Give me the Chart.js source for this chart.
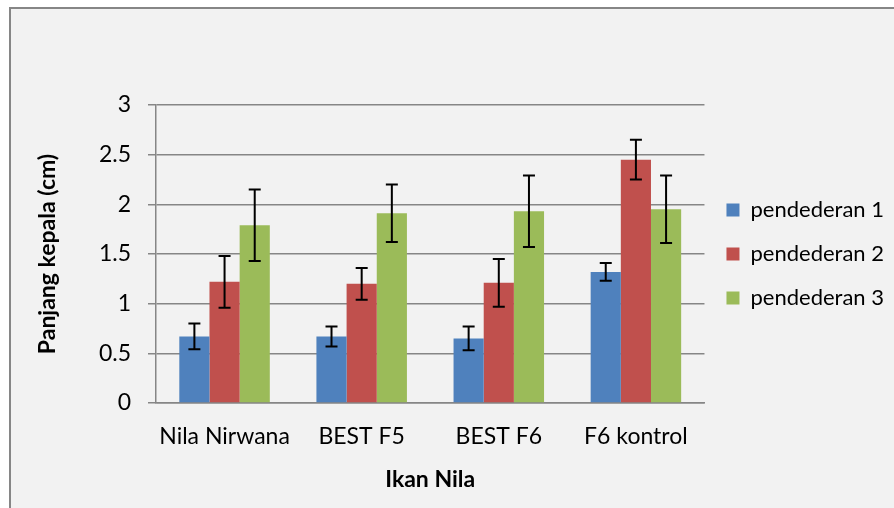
<!DOCTYPE html>
<html>
<head>
<meta charset="utf-8">
<script src="https://cdn.jsdelivr.net/npm/chart.js@4"></script>
<style>
  body { margin: 0; background: #ffffff; }
  #frame {
    position: absolute; left: 9px; top: 7px; width: 900px; height: 520px;
    background: #f2f2f2; border-left: 2px solid #868686; border-top: 2px solid #868686;
  }
  #wrap { position: absolute; left: 0; top: 0; width: 894px; height: 508px; }
</style>
</head>
<body>
<div id="frame"></div>
<div id="wrap"><canvas id="chart" width="894" height="508"></canvas></div>
<script>
// data
const categories = ['Nila Nirwana', 'BEST F5', 'BEST F6', 'F6 kontrol'];
const seriesNames = ['pendederan 1', 'pendederan 2', 'pendederan 3'];
const pendederan1 = [0.67, 0.67, 0.65, 1.32];
const pendederan2 = [1.22, 1.20, 1.21, 2.45];
const pendederan3 = [1.79, 1.91, 1.93, 1.95];
const err1 = [0.13, 0.10, 0.12, 0.09];
const err2 = [0.26, 0.16, 0.24, 0.20];
const err3 = [0.36, 0.29, 0.36, 0.34];
const yTicks = [0, 0.5, 1, 1.5, 2, 2.5, 3];

const colors = ['#4f81bd', '#c0504d', '#9bbb59'];
const gridColor = '#868686';

// error bars drawn through the y scale
const errorBars = {
  id: 'errorBars',
  afterDatasetsDraw(chart) {
    const ctx = chart.ctx;
    const y = chart.scales.y;
    ctx.save();
    ctx.strokeStyle = '#000000';
    ctx.lineWidth = 2;
    chart.data.datasets.forEach((ds, di) => {
      const meta = chart.getDatasetMeta(di);
      meta.data.forEach((bar, i) => {
        const v = ds.data[i];
        const e = ds.errors[i];
        const top = y.getPixelForValue(v + e);
        const bot = y.getPixelForValue(v - e);
        const x = bar.x;
        ctx.beginPath();
        ctx.moveTo(x, top); ctx.lineTo(x, bot);
        ctx.moveTo(x - 6, top); ctx.lineTo(x + 6, top);
        ctx.moveTo(x - 6, bot); ctx.lineTo(x + 6, bot);
        ctx.stroke();
      });
    });
    ctx.restore();
  }
};

new Chart(document.getElementById('chart'), {
  type: 'bar',
  data: {
    labels: categories,
    datasets: [
      { label: seriesNames[0], data: pendederan1, errors: err1, backgroundColor: colors[0] },
      { label: seriesNames[1], data: pendederan2, errors: err2, backgroundColor: colors[1] },
      { label: seriesNames[2], data: pendederan3, errors: err3, backgroundColor: colors[2] }
    ]
  },
  options: {
    responsive: false,
    animation: false,
    devicePixelRatio: 1,
    datasets: { bar: { barPercentage: 1, categoryPercentage: 0.66 } },
    layout: { padding: { top: 105, right: 0, bottom: 0, left: 0 } },
    plugins: {
      tooltip: { enabled: false },
      legend: {
        position: 'right',
        align: 'center',
        fullSize: false,
        labels: {
          boxWidth: 13, boxHeight: 13, padding: 22,
          color: '#000000',
          font: { family: 'Lato', size: 22 }
        }
      }
    },
    scales: {
      x: {
        grid: { display: false, drawTicks: false },
        border: { display: true, color: gridColor, width: 1.5 },
        ticks: {
          color: '#000000', padding: 20, maxRotation: 0, minRotation: 0, autoSkip: false,
          font: { family: 'Lato', size: 23 }
        },
        title: {
          display: true, text: 'Ikan Nila', color: '#000000',
          font: { family: 'Lato', size: 23, weight: 'bold' },
          padding: { top: 0, bottom: 15 }
        },
        afterFit(s) { s.height = 105; }
      },
      y: {
        min: 0, max: 3,
        afterBuildTicks(s) { s.ticks = yTicks.map(v => ({ value: v })); },
        grid: { color: gridColor, lineWidth: 1.5, tickLength: 8 },
        border: { display: true, color: gridColor, width: 1.5 },
        ticks: {
          color: '#000000', padding: 17,
          font: { family: 'Lato', size: 23 },
          callback: v => String(v)
        },
        title: {
          display: true, text: 'Panjang kepala (cm)', color: '#000000',
          font: { family: 'Lato', size: 23, weight: 'bold' },
          padding: { top: 34, bottom: 0 }
        },
        afterFit(s) { s.width = 156; }
      }
    }
  },
  plugins: [errorBars]
});
</script>
</body>
</html>
